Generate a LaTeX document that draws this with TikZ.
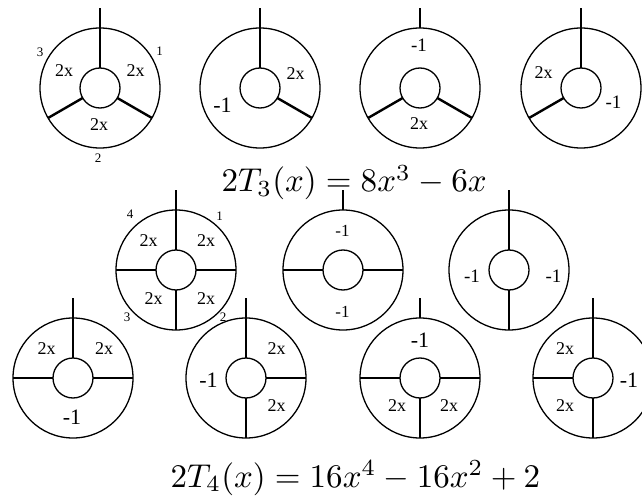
\documentclass[tikz,border=0pt]{standalone}
\usepackage{fontspec}
\newfontfamily\labfont{Liberation Serif}
\newcommand\mkring[3]{%
  \node[outer] (o#1) at (#2,#3) {};
  \node[hub] (i#1) at (#2,#3) {};
  \coordinate (t#1) at ([yshift=20pt]o#1.north);
  \draw[spoke] (o#1.north) -- (t#1);}
\newcommand\mkspoke[2]{\draw[spoke] (i#1.#2) -- (o#1.#2);}
\begin{document}
\begin{tikzpicture}[x=1pt,y=-1pt,
  rim/.style={draw,circle,line width=1.3pt,inner sep=0pt,outer sep=0pt},
  outer/.style={rim,minimum size=120pt},
  hub/.style={rim,minimum size=40pt},
  spoke/.style={line width=2.4pt},
  val/.style={inner sep=0pt,font=\labfont\fontsize{18}{18}\selectfont},
  neg/.style={inner sep=0pt,font=\labfont\fontsize{#1}{#1}\selectfont},
  num/.style={inner sep=0pt,font=\labfont\fontsize{13}{13}\selectfont},
  eq/.style={inner sep=0pt,anchor=base west,scale=3.3}]
\useasboundingbox (0,0) rectangle (642,497);
% top row
\mkring{1}{100}{88} \mkspoke{1}{90} \mkspoke{1}{-30} \mkspoke{1}{210}
\mkring{2}{260}{88} \mkspoke{2}{90} \mkspoke{2}{-30}
\mkring{3}{420}{88} \mkspoke{3}{-30} \mkspoke{3}{210}
\mkring{4}{581}{88} \mkspoke{4}{90} \mkspoke{4}{210}
% middle row
\mkring{5}{176}{270} \mkspoke{5}{90} \mkspoke{5}{0} \mkspoke{5}{180} \mkspoke{5}{270}
\mkring{6}{343}{270} \mkspoke{6}{0} \mkspoke{6}{180}
\mkring{7}{509}{270} \mkspoke{7}{90} \mkspoke{7}{270}
% bottom row
\mkring{8}{73}{378} \mkspoke{8}{90} \mkspoke{8}{0} \mkspoke{8}{180}
\mkring{9}{246}{378} \mkspoke{9}{90} \mkspoke{9}{0} \mkspoke{9}{270}
\mkring{10}{420}{378} \mkspoke{10}{0} \mkspoke{10}{180} \mkspoke{10}{270}
\mkring{11}{593}{378} \mkspoke{11}{90} \mkspoke{11}{180} \mkspoke{11}{270}
% labels ring 1
\node[val] (a1) at (64,71) {2x};
\node[val] (a2) at (135.5,71) {2x};
\node[val] (a3) at (99,125) {2x};
\node[num] (n1) at (40,52) {3};
\node[num] (n2) at (159.5,51) {1};
\node[num] (n3) at (98,158) {2};
% ring 2
\node[val] (b1) at (295.5,74) {2x};
\node[neg=22] (b2) at (222.5,105) {-1};
% ring 3
\node[neg=19] (c1) at (419,45) {-1};
\node[val] (c2) at (419,124) {2x};
% ring 4
\node[val] (d1) at (543.5,73) {2x};
\node[neg=19] (d2) at (613.5,102) {-1};
% ring 5
\node[val] (e1) at (148.5,241) {2x};
\node[val] (e2) at (206,241) {2x};
\node[val] (e3) at (153.5,299) {2x};
\node[val] (e4) at (206,299) {2x};
\node[num] (n4) at (130,214) {4};
\node[num] (n5) at (219.5,216) {1};
\node[num] (n6) at (127,317) {3};
\node[num] (n7) at (223,317) {2};
% ring 6
\node[neg=17] (f1) at (342.5,231) {-1};
\node[neg=17] (f2) at (342.5,312) {-1};
% ring 7
\node[neg=19] (g1) at (472,276) {-1};
\node[neg=19] (g2) at (553.5,276) {-1};
% ring 8
\node[val] (h1) at (46.5,349) {2x};
\node[val] (h2) at (104,349) {2x};
\node[neg=22] (h3) at (72,417) {-1};
% ring 9
\node[neg=22] (j1) at (208.5,380) {-1};
\node[val] (j2) at (276.5,349) {2x};
\node[val] (j3) at (276.5,406) {2x};
% ring 10
\node[neg=22] (k1) at (420,340) {-1};
\node[val] (k2) at (397,406) {2x};
\node[val] (k3) at (449,406) {2x};
% ring 11
\node[val] (m1) at (565,349) {2x};
\node[val] (m2) at (565,406) {2x};
\node[neg=22] (m3) at (629,380) {-1};
% equations
\node[eq] (eqa) at (221,192) {$2T_3(x) = 8x^3 - 6x$};
\node[eq] (eqb) at (170,487) {$2T_4(x) = 16x^4 - 16x^2 + 2$};
\end{tikzpicture}
\end{document}
